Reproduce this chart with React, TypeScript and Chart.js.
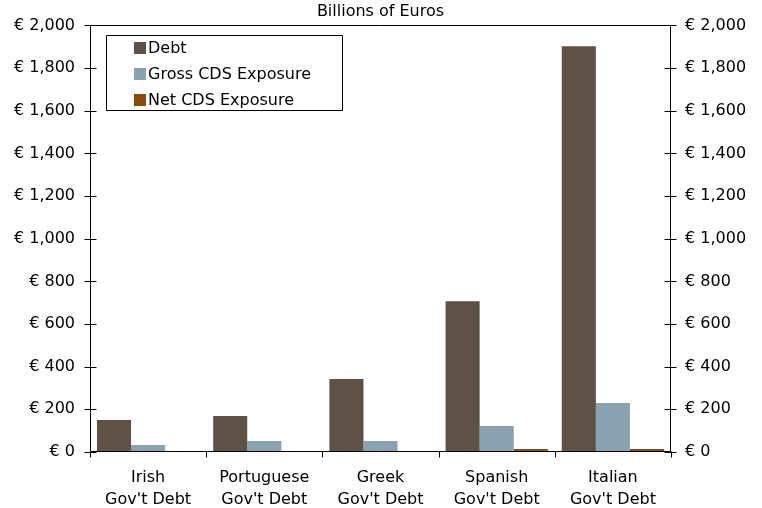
import React, { useEffect, useRef } from 'react';
import { Chart, registerables } from 'chart.js';
Chart.register(...registerables);

const chartTitle = 'Billions of Euros';
const categories: string[][] = [
  ['Irish', "Gov't Debt"],
  ['Portuguese', "Gov't Debt"],
  ['Greek', "Gov't Debt"],
  ['Spanish', "Gov't Debt"],
  ['Italian', "Gov't Debt"],
];
const seriesNames = ['Debt', 'Gross CDS Exposure', 'Net CDS Exposure'];
const debt = [150, 169, 342, 707, 1902];
const grossCDS = [33, 52, 52, 122, 230];
const netCDS = [2, 2, 2, 14, 14];
const yMin = 0;
const yMax = 2000;
const yStep = 200;

const COLORS = ['#5e5247', '#8aa2b0', '#8c4a0f'];
const FONT = '"DejaVu Sans", Verdana, sans-serif';
const INK = '#000000';

const fmt = (v: number) => '€ ' + Number(v).toLocaleString('en-US');

const decorPlugin = {
  id: 'decor',
  afterDraw(chart: any) {
    const ctx = chart.ctx as CanvasRenderingContext2D;
    const { left, right, top, bottom } = chart.chartArea;
    const y = chart.scales.y;
    ctx.save();
    ctx.strokeStyle = INK;
    ctx.lineWidth = 1;
    const L = Math.round(left) + 0.5;
    const R = Math.round(right) - 0.5;
    const T = Math.round(top) + 0.5;
    const B = Math.round(bottom) - 0.5;
    ctx.beginPath();
    ctx.moveTo(L, T); ctx.lineTo(R, T);
    ctx.moveTo(L, T); ctx.lineTo(L, B);
    ctx.moveTo(R, T); ctx.lineTo(R, B);
    ctx.moveTo(L, B); ctx.lineTo(R, B);
    for (let v = yMin; v <= yMax; v += yStep) {
      const py = Math.round(y.getPixelForValue(v)) + 0.5;
      ctx.moveTo(L - 6, py); ctx.lineTo(L + 6, py);
      ctx.moveTo(R - 6, py); ctx.lineTo(R + 6, py);
    }
    const n = categories.length;
    for (let i = 0; i <= n; i++) {
      const px = Math.round(left + (right - left) * i / n) + 0.5;
      ctx.moveTo(px, B); ctx.lineTo(px, B + 6);
    }
    ctx.stroke();

    ctx.fillStyle = INK;
    ctx.font = '16px ' + FONT;
    ctx.textAlign = 'center';
    ctx.textBaseline = 'middle';
    ctx.fillText(chartTitle, (left + right) / 2, 12);

    const bx = 106.5, by = 35.5, bw = 236, bh = 75;
    ctx.beginPath();
    ctx.rect(bx, by, bw, bh);
    ctx.fillStyle = '#ffffff';
    ctx.fill();
    ctx.strokeStyle = INK;
    ctx.stroke();
    ctx.textAlign = 'left';
    for (let i = 0; i < seriesNames.length; i++) {
      const cy = 48 + i * 26;
      ctx.fillStyle = COLORS[i];
      ctx.fillRect(134, cy - 6, 12, 12);
      ctx.fillStyle = INK;
      ctx.fillText(seriesNames[i], 148, cy + 1);
    }
    ctx.restore();
  },
};

export default function App() {
  const ref = useRef<HTMLCanvasElement | null>(null);
  useEffect(() => {
    document.body.style.margin = '0';
    const canvas = ref.current!;
    const tickFont = { family: FONT, size: 16, lineHeight: 1.3 };
    const xFont = { family: FONT, size: 16, lineHeight: 1.35 };
    const noGrid = { display: false, drawTicks: false, tickLength: 0 };
    const chart = new Chart(canvas, {
      type: 'bar',
      data: {
        labels: categories as any,
        datasets: [
          { label: seriesNames[0], data: debt, backgroundColor: COLORS[0], yAxisID: 'y' },
          { label: seriesNames[1], data: grossCDS, backgroundColor: COLORS[1], yAxisID: 'y' },
          { label: seriesNames[2], data: netCDS, backgroundColor: COLORS[2], yAxisID: 'y' },
        ],
      },
      options: {
        responsive: false,
        animation: false,
        devicePixelRatio: 1,
        layout: { padding: { top: 25, left: 0, right: 0, bottom: 0 } },
        datasets: { bar: { categoryPercentage: 0.88, barPercentage: 1.0 } },
        plugins: { legend: { display: false }, title: { display: false }, tooltip: { enabled: false } },
        scales: {
          x: {
            grid: noGrid,
            border: { display: false },
            ticks: { font: xFont, color: INK, padding: 15, maxRotation: 0, autoSkip: false },
            afterFit: (s: any) => { s.height = 56; },
          },
          y: {
            position: 'left',
            min: yMin, max: yMax,
            grid: noGrid,
            border: { display: false },
            ticks: { stepSize: yStep, font: tickFont, color: INK, padding: 15, callback: (v: any) => fmt(v) },
            afterFit: (s: any) => { s.width = 90; },
          },
          y2: {
            position: 'right',
            min: yMin, max: yMax,
            grid: noGrid,
            border: { display: false },
            ticks: { stepSize: yStep, font: tickFont, color: INK, padding: 14, callback: (v: any) => fmt(v) },
            afterFit: (s: any) => { s.width = 91; },
          },
        },
      },
      plugins: [decorPlugin],
    } as any);
    return () => chart.destroy();
  }, []);
  return (
    <div style={{ width: 762, height: 508 }}>
      <canvas ref={ref} width={762} height={508} style={{ display: 'block' }} />
    </div>
  );
}
